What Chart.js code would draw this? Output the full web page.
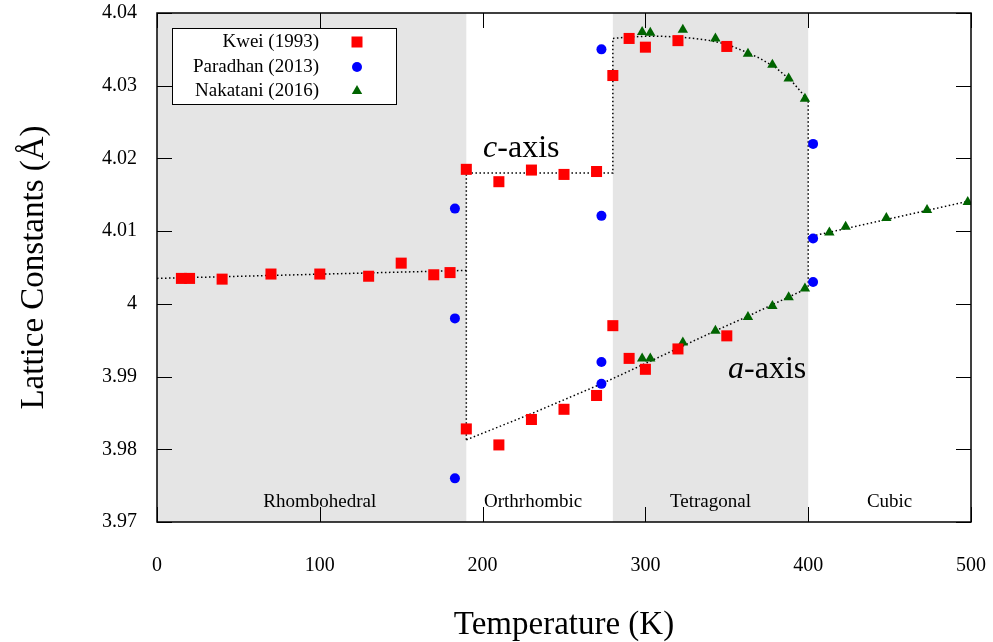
<!DOCTYPE html>
<html><head><meta charset="utf-8">
<script src="https://cdn.jsdelivr.net/npm/chart.js@4.4.1/dist/chart.umd.min.js"></script>
<style>html,body{margin:0;padding:0;background:#fff}#wrap{width:993px;height:642px}</style>
</head><body><div id="wrap"><canvas id="c" width="993" height="642"></canvas></div>
<script>
const FONT = "'Liberation Serif','Times New Roman',serif";

// ---- Kwei (1993): rhombohedral / c-axis branch ----
const kweiCT = [15,20,40,70,100,130,150,170,180,190,210,230,250,270,280,290,300,320,350];
const kweiCV = [4.0035,4.0035,4.0034,4.0041,4.0041,4.0038,4.0056,4.0040,4.0043,4.0185,4.0168,4.0184,4.0178,4.0182,4.0314,4.0365,4.0353,4.0362,4.0354];
// Kwei a-axis branch
const kweiAT = [190,210,230,250,270,280,290,300,320,350];
const kweiAV = [3.9828,3.9806,3.9841,3.9855,3.9874,3.9970,3.9925,3.9910,3.9938,3.9956];

// ---- Paradhan (2013) ----
const paradhanT = [183,183,183,273,273,273,273,403,403,403];
const paradhanV = [4.0131,3.9980,3.9760,4.0350,4.0121,3.9920,3.9890,4.0220,4.0090,4.0030];

// ---- Nakatani (2016) ----
const nakataniCT = [298,303,323,343,363,378,388,398];
const nakataniCV = [4.0374,4.0373,4.0377,4.0365,4.0344,4.0329,4.0310,4.0282];
const nakataniAT = [298,303,323,343,363,378,388,398];
const nakataniAV = [3.9925,3.9925,3.9947,3.9963,3.9982,3.9997,4.0009,4.0021];
const nakataniCubT = [413,423,448,473,498];
const nakataniCubV = [4.0098,4.0106,4.0118,4.0129,4.0140];

// ---- dotted guide lines ----
const guideRhT = [0,190];
const guideRhV = [4.0035,4.0046];
const guideCT = [190,190,280,280,290,300,310,320,330,340,350,360,370,380,390,400,400];
const guideCV = [3.9813,4.0180,4.0180,4.0365,4.0367,4.0368,4.0368,4.0367,4.0365,4.0362,4.0357,4.0348,4.0338,4.0325,4.0306,4.0280,4.0022];
const guideAT = [190,230,273,300,343,363,380,400];
const guideAV = [3.9813,3.9849,3.9890,3.9918,3.9963,3.9983,4.0001,4.0022];
const guideCubT = [400,500];
const guideCubV = [4.0092,4.0142];

// ---- phases ----
const shadeRanges = [[0,190],[280,400]];
const phaseNames = ['Rhombohedral','Orthrhombic','Tetragonal','Cubic'];
const phaseLabelT = [100,231,340,450];
const phaseLabelV = 3.9727;

const legendNames = ['Kwei (1993)','Paradhan (2013)','Nakatani (2016)'];

const pts = (xs, ys) => xs.map((x,i)=>({x, y: ys[i]}));

const RED='#ff0000', BLUE='#0000ff', GREEN='#006400';
const markerDs = (data, color, style, r) => ({data, pointStyle:style, pointRadius:r, pointBackgroundColor:color, pointBorderColor:color, pointBorderWidth:0, showLine:false});
const guideDs = (data) => ({data, showLine:true, pointRadius:0, borderColor:'#000', borderWidth:1.5, borderDash:[1.5,2.5], fill:false, tension:0});

const decor = {
  id:'decor',
  beforeDatasetsDraw(chart){
    const {ctx, chartArea:a, scales:{x,y}} = chart;
    ctx.save();
    ctx.fillStyle='#e5e5e5';
    shadeRanges.forEach(([t0,t1])=>{
      const p0=x.getPixelForValue(t0), p1=x.getPixelForValue(t1);
      ctx.fillRect(p0,a.top,p1-p0,a.bottom-a.top);
    });
    ctx.fillStyle='#000';
    ctx.font='19px '+FONT; ctx.textAlign='center'; ctx.textBaseline='middle';
    phaseNames.forEach((n,i)=>ctx.fillText(n, x.getPixelForValue(phaseLabelT[i]), y.getPixelForValue(phaseLabelV)));
    // inward ticks
    ctx.strokeStyle='#000'; ctx.lineWidth=1;
    const L=15;
    x.ticks.forEach(t=>{
      const px=Math.round(x.getPixelForValue(t.value))+0.5;
      ctx.beginPath(); ctx.moveTo(px,a.bottom); ctx.lineTo(px,a.bottom-L); ctx.moveTo(px,a.top); ctx.lineTo(px,a.top+L); ctx.stroke();
    });
    y.ticks.forEach(t=>{
      const py=Math.round(y.getPixelForValue(t.value))+0.5;
      ctx.beginPath(); ctx.moveTo(a.left,py); ctx.lineTo(a.left+L,py); ctx.moveTo(a.right,py); ctx.lineTo(a.right-L,py); ctx.stroke();
    });
    ctx.restore();
  },
  afterDatasetsDraw(chart){
    const {ctx, chartArea:a, scales:{x,y}} = chart;
    ctx.save();
    ctx.strokeStyle='#000'; ctx.lineWidth=1.5;
    ctx.strokeRect(a.left,a.top,a.right-a.left,a.bottom-a.top);
    // axis labels c-axis, a-axis
    ctx.fillStyle='#000'; ctx.textAlign='left'; ctx.textBaseline='alphabetic';
    const lab=(letter,t,v)=>{
      let px=x.getPixelForValue(t), py=y.getPixelForValue(v);
      ctx.font='italic 32px '+FONT; ctx.fillText(letter,px,py);
      px+=ctx.measureText(letter).width;
      ctx.font='32px '+FONT; ctx.fillText('-axis',px,py);
    };
    lab('c',200.3,4.0202);
    lab('a',350.8,3.9898);
    // legend box
    const bx=172, by=28, bw=224, bh=76;
    ctx.fillStyle='#fff'; ctx.fillRect(bx,by,bw,bh);
    ctx.lineWidth=1; ctx.strokeRect(bx+0.5,by+0.5,bw,bh);
    ctx.font='19px '+FONT; ctx.textAlign='right'; ctx.textBaseline='middle'; ctx.fillStyle='#000';
    const rows=[42,67,91];
    const styles=[['rect',RED],['circle',BLUE],['triangle',GREEN]];
    rows.forEach((ry,i)=>{
      ctx.fillStyle='#000'; ctx.fillText(legendNames[i],319,ry);
      const [st,col]=styles[i]; ctx.fillStyle=col; const mx=357;
      ctx.beginPath();
      if(st==='rect'){ctx.rect(mx-5.5,ry-5.5,11,11);}
      else if(st==='circle'){ctx.arc(mx,ry,5,0,Math.PI*2);}
      else {const r=6; ctx.moveTo(mx,ry-r); ctx.lineTo(mx+r*0.866,ry+r/2); ctx.lineTo(mx-r*0.866,ry+r/2); ctx.closePath();}
      ctx.fill();
    });
    ctx.restore();
  }
};

new Chart(document.getElementById('c'), {
  type:'scatter',
  data:{datasets:[
    markerDs(pts(kweiCT,kweiCV),RED,'rect',7.8),
    markerDs(pts(kweiAT,kweiAV),RED,'rect',7.8),
    markerDs(pts(paradhanT,paradhanV),BLUE,'circle',5),
    markerDs(pts(nakataniCT,nakataniCV),GREEN,'triangle',6),
    markerDs(pts(nakataniAT,nakataniAV),GREEN,'triangle',6),
    markerDs(pts(nakataniCubT,nakataniCubV),GREEN,'triangle',6),
    guideDs(pts(guideRhT,guideRhV)),
    guideDs(pts(guideCT,guideCV)),
    guideDs(pts(guideAT,guideAV)),
    guideDs(pts(guideCubT,guideCubV))
  ]},
  options:{
    responsive:false, animation:false, events:[],
    layout:{padding:{top:13,right:22,left:0,bottom:0}},
    plugins:{legend:{display:false}, tooltip:{enabled:false}},
    elements:{line:{borderCapStyle:'butt'}},
    scales:{
      x:{type:'linear', min:0, max:500,
        ticks:{stepSize:100, font:{family:FONT,size:20}, color:'#000', padding:32, maxRotation:0},
        grid:{display:false, drawTicks:false}, border:{display:false},
        title:{display:true, text:'Temperature (K)', color:'#000', font:{family:FONT,size:33,lineHeight:1}, padding:{top:0,bottom:0}},
        afterFit(s){ s.height=120; s.paddingLeft=0; s.paddingRight=0; }
      },
      y:{type:'linear', min:3.97, max:4.04,
        ticks:{stepSize:0.01, font:{family:FONT,size:20}, color:'#000', padding:20,
          callback:(v)=>String(Number(Number(v).toFixed(2)))},
        grid:{display:false, drawTicks:false}, border:{display:false},
        title:{display:true, text:'Lattice Constants (Å)', color:'#000', font:{family:FONT,size:33,lineHeight:1}, padding:{top:17.5,bottom:0}},
        afterFit(s){ s.width=157; s.paddingTop=0; s.paddingBottom=0; }
      }
    }
  },
  plugins:[decor]
});
</script></body></html>
